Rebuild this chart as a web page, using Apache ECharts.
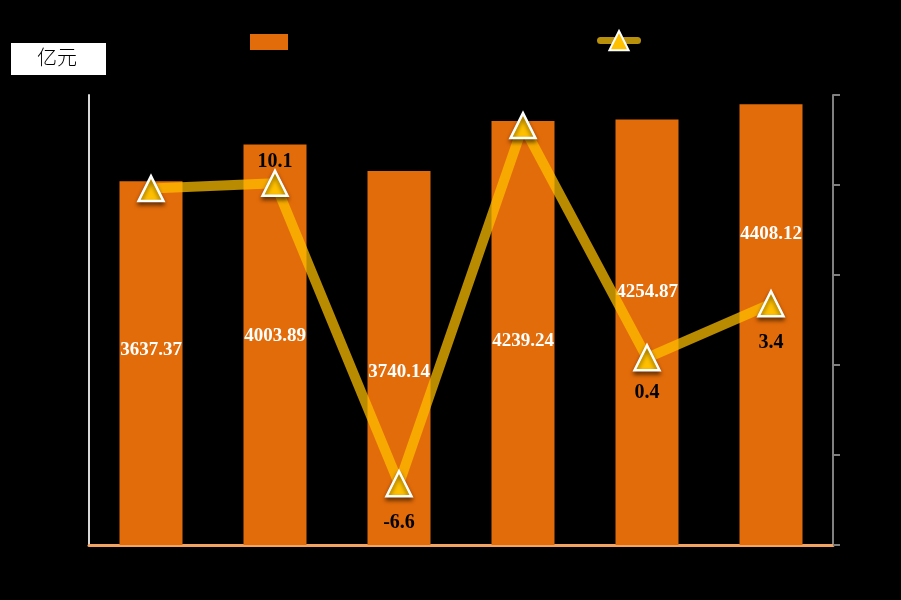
<!DOCTYPE html>
<html>
<head>
<meta charset="utf-8">
<script src="https://cdn.jsdelivr.net/npm/echarts@6/dist/echarts.min.js"></script>
<style>
html,body{margin:0;padding:0;background:#000;}
#main{width:901px;height:600px;}
</style>
</head>
<body>
<div id="main"></div>
<script>
// ---- data ----
var categories = ['2017年', '2018年', '2019年', '2020年', '2021年', '2022年'];
var barValues = [3637.37, 4003.89, 3740.14, 4239.24, 4254.87, 4408.12];
var growthValues = [9.8, 10.1, -6.6, 13.3, 0.4, 3.4];
var growthLabelShown = [false, true, true, false, true, true];
var barName = '地区生产总值';
var lineName = '增长率（%）';
var unitText = '亿元';

// ---- styling helpers (positions, not data) ----
var barLabelShift = [-13, -9, 14, 8, -40, -91];
var lineLabelPos = ['top', 'top', 'bottom', 'top', 'bottom', 'bottom'];
var lineLabelDist = [3, -2, 15, 3, 11, 15];

var barData = barValues.map(function (v, i) {
  return { value: v, label: { offset: [0, barLabelShift[i]] } };
});
var lineData = growthValues.map(function (v, i) {
  return {
    value: v,
    label: { show: growthLabelShown[i], position: lineLabelPos[i], distance: lineLabelDist[i] }
  };
});

var serif = '"Liberation Serif","Times New Roman",serif';

var chart = echarts.init(document.getElementById('main'), null, { renderer: 'canvas' });
chart.setOption({
  backgroundColor: '#000',
  animation: false,
  grid: { left: 89, right: 68, top: 95, bottom: 55, containLabel: false },
  legend: [
    {
      left: 250, top: 34, padding: 0, itemWidth: 38, itemHeight: 16, itemGap: 6,
      icon: 'rect',
      data: [barName],
      textStyle: { color: '#000', fontSize: 16 }
    },
    {
      left: 597, top: 30, padding: 0, itemWidth: 37, itemHeight: 24,
      data: [lineName],
      lineStyle: { width: 7, color: '#b8900a', cap: 'round' },
      textStyle: { color: '#000', fontSize: 16 }
    }
  ],
  graphic: [
    {
      type: 'rect', left: 11, top: 43,
      shape: { width: 95, height: 32 },
      style: { fill: '#fff' }
    },
    {
      type: 'text', left: 37, top: 47,
      style: { text: unitText, fill: '#000', fontSize: 20, fontFamily: '"Noto Sans CJK SC",sans-serif', fontWeight: 300 }
    }
  ],
  xAxis: {
    type: 'category',
    data: categories,
    axisLine: { show: true, lineStyle: { color: '#f4a460', width: 3 } },
    axisTick: { show: false },
    axisLabel: { color: '#000', fontSize: 14 },
    splitLine: { show: false }
  },
  yAxis: [
    {
      type: 'value', min: 0, max: 4500, interval: 900,
      axisLine: { show: true, lineStyle: { color: '#d9d9d9', width: 2 } },
      axisTick: { show: false },
      axisLabel: { color: '#000' },
      splitLine: { show: false }
    },
    {
      type: 'value', min: -10, max: 15, interval: 5, position: 'right',
      axisLine: { show: true, lineStyle: { color: '#808080', width: 2 } },
      axisTick: { show: true, length: 7, lineStyle: { color: '#808080', width: 2 } },
      axisLabel: { color: '#000' },
      splitLine: { show: false }
    }
  ],
  series: [
    {
      name: barName,
      type: 'bar',
      data: barData,
      barWidth: 63,
      itemStyle: { color: '#e36c0a' },
      label: {
        show: true, position: 'inside', color: '#fff',
        fontFamily: serif, fontWeight: 'bold', fontSize: 19
      },
      z: 2
    },
    {
      name: lineName,
      type: 'line',
      yAxisIndex: 1,
      data: lineData,
      symbol: 'triangle',
      symbolSize: 25,
      lineStyle: { color: 'rgba(255,192,0,0.72)', width: 10 },
      itemStyle: {
        color: '#ffc000', borderColor: '#fff', borderWidth: 2.5,
        shadowColor: 'rgba(0,0,0,0.5)', shadowBlur: 4, shadowOffsetY: 3
      },
      label: {
        color: '#000', fontFamily: serif, fontWeight: 'bold', fontSize: 20
      },
      z: 5
    }
  ]
});
</script>
</body>
</html>
